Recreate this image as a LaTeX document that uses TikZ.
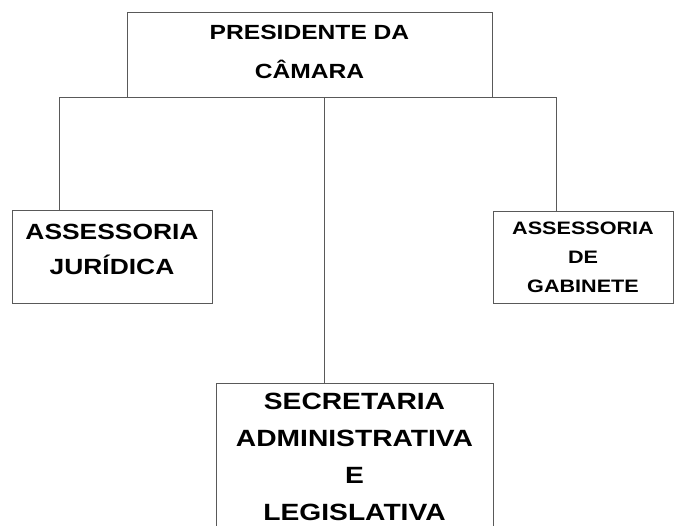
\documentclass[tikz,border=0pt]{standalone}
\usepackage{fontspec}
\newfontfamily\orgfont{Liberation Sans}[FakeStretch=1.2]
\usepackage{tikz}

\begin{document}
\begin{tikzpicture}[x=1pt, y=-1pt,
        caixa/.style = {draw = black!65, line width = 0.8pt, align = center,
                        inner sep = 0pt, font = \orgfont\bfseries},
        linha/.style = {draw = black!65, line width = 0.8pt}]
                \useasboundingbox (0,0) rectangle (681,526);

                \node [caixa, minimum width = 365pt, minimum height = 85pt, text depth = 6pt,
                font = \orgfont\bfseries\fontsize{20.5}{39}\selectfont]
                (pres) at (309.5,54.5) {PRESIDENTE DA\\C\^AMARA};

                \node [caixa, minimum width = 200pt, minimum height = 93pt, text depth = 15pt,
                font = \orgfont\bfseries\fontsize{22}{35}\selectfont]
                (jur) at (112,256.5) {ASSESSORIA\\JUR\'IDICA};

                \node [caixa, minimum width = 180pt, minimum height = 92pt,
                font = \orgfont\bfseries\fontsize{18}{29}\selectfont]
                (gab) at (583,257) {ASSESSORIA\\DE\\GABINETE};

                \node [caixa, minimum width = 277pt, minimum height = 153pt, text depth = 5pt,
                font = \orgfont\bfseries\fontsize{23.5}{37}\selectfont]
                (sec) at (354.5,459.5) {SECRETARIA\\ADMINISTRATIVA\\E\\LEGISLATIVA};

                % ligacoes
                \draw [linha] ([xshift = 48pt]jur.north west) |- ([xshift = 64pt]gab.north west |- pres.south)
                -- ([xshift = 64pt]gab.north west);

                \draw [linha] ([xshift = 14.5pt]pres.south) -- ([xshift = -30.5pt]sec.north);

            \end{tikzpicture}
\end{document}
